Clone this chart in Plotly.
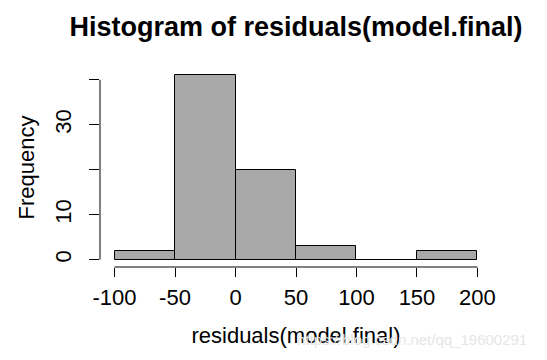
import plotly.graph_objects as go

# Histogram data
bin_edges = [-100, -50, 0, 50, 100, 150, 200]
counts = [2, 41, 20, 3, 0, 2]
x_ticks = [-100, -50, 0, 50, 100, 150, 200]
x_tick_labels = ["-100", "-50", "0", "50", "100", "150", "200"]
y_ticks = [0, 10, 20, 30, 40]
y_tick_labels = ["0", "10", "", "30", ""]

centers = [(a + b) / 2 for a, b in zip(bin_edges[:-1], bin_edges[1:])]
widths = [b - a for a, b in zip(bin_edges[:-1], bin_edges[1:])]

FONT = "Liberation Sans, Arial, Helvetica, sans-serif"

fig = go.Figure()
fig.add_trace(go.Bar(
    x=centers, y=counts, width=widths,
    marker=dict(color="#A9A9A9", line=dict(color="#000000", width=1)),
    hoverinfo="x+y",
))

xmin, xmax = min(bin_edges), max(bin_edges)
pad_x = 0.04 * (xmax - xmin)
ymax = max(counts)
pad_y = 0.04 * ymax

fig.update_layout(
    width=547, height=360,
    margin=dict(l=100, r=55, t=68, b=93, autoexpand=False),
    paper_bgcolor="white", plot_bgcolor="white",
    showlegend=False,
    font=dict(family=FONT, color="black", size=22),
    title=dict(text="<b>Histogram of residuals(model.final)</b>",
               x=(64 + 528) / 2 / 547, xanchor="center", y=1 - 27 / 360, yanchor="middle",
               xref="container",
               font=dict(family=FONT, size=27, color="black")),
    bargap=0,
    xaxis=dict(range=[xmin - pad_x, xmax + pad_x], tickvals=x_ticks, ticktext=x_tick_labels,
               showgrid=False, zeroline=False, showline=False, automargin=False,
               ticks="outside", ticklen=9, tickwidth=1, tickcolor="black",
               ticklabelstandoff=2,
               tickfont=dict(size=22),
               title=dict(text="residuals(model.final)", standoff=18, font=dict(size=22))),
    yaxis=dict(range=[-pad_y, ymax + pad_y], tickvals=y_ticks, ticktext=y_tick_labels,
               showgrid=False, zeroline=False, showline=False, automargin=False,
               ticks="outside", ticklen=10, tickwidth=1, tickcolor="black",
               tickangle=-90, ticklabelstandoff=9, tickfont=dict(size=22),
               title=dict(text="Frequency", standoff=10, font=dict(size=22))),
)

# R-style axis lines spanning only the tick range
fig.add_shape(type="line", xref="x", yref="paper", x0=min(x_ticks), x1=max(x_ticks), y0=0, y1=0,
              line=dict(color="black", width=1))
fig.add_shape(type="line", xref="paper", yref="y", x0=0, x1=0, y0=min(y_ticks), y1=max(y_ticks),
              line=dict(color="black", width=1))

# faint watermark
fig.add_annotation(text="https://blog.csdn.net/qq_19600291", xref="paper", yref="paper",
                   x=(529 - 100) / 392, y=-(339 - 267) / 199, xanchor="right", yanchor="middle",
                   showarrow=False, font=dict(family=FONT, size=15, color="#E6E6E6"))

fig.write_html("out.html", config={"displayModeBar": False},
               post_script="document.body.style.margin='0';")
